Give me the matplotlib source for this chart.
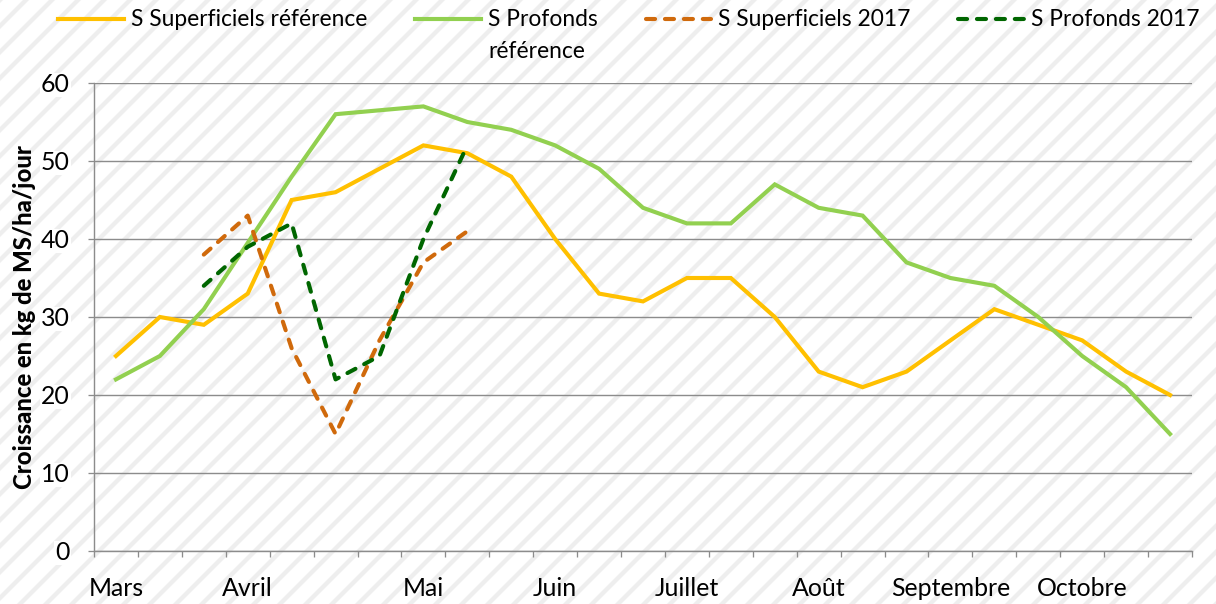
import numpy as np
import matplotlib
matplotlib.use("Agg")
import matplotlib.pyplot as plt

# semaines de mars a octobre (25 points)
months = ["Mars", "Avril", "Mai", "Juin", "Juillet", "Août", "Septembre", "Octobre"]
month_idx = [0, 3, 7, 10, 13, 16, 19, 22]

sup_ref = [25, 30, 29, 33, 45, 46, 49, 52, 51, 48, 40, 33, 32, 35, 35, 30,
           23, 21, 23, 27, 31, 29, 27, 23, 20]
prof_ref = [22, 25, 31, 39.5, 48, 56, 56.5, 57, 55, 54, 52, 49, 44, 42, 42, 47,
            44, 43, 37, 35, 34, 30, 25, 21, 15]
idx_2017 = [2, 3, 4, 5, 6, 7, 8]
sup_2017 = [38, 43, 26, 15, 27, 37, 41]
prof_2017 = [34, 39, 42, 22, 25, 40, 52]

DPI = 78
plt.rcParams["font.family"] = ["Lato", "DejaVu Sans"]
plt.rcParams["hatch.linewidth"] = 4.0
plt.rcParams["hatch.color"] = "#eeeeee"

fig = plt.figure(figsize=(1216 / DPI, 604 / DPI), dpi=DPI)
fig.patch.set_facecolor("white")
fig.patch.set_hatch("/")
fig.patch.set_edgecolor("#eeeeee")
fig.patch.set_linewidth(0)

ax = fig.add_axes([94 / 1216, 53 / 604, 1098 / 1216, 468 / 604])
ax.set_facecolor("none")

x = np.arange(len(sup_ref))
ax.plot(x, sup_ref, color="#FFC000", lw=3.8, solid_joinstyle="miter",
        label="S Superficiels référence", zorder=3)
ax.plot(x, prof_ref, color="#92D050", lw=3.8, solid_joinstyle="miter",
        label="S Profonds", zorder=3)
ax.plot(idx_2017, sup_2017, color="#D06A0C", lw=3.8, dashes=(2.2, 2.4),
        dash_capstyle="round", label="S Superficiels 2017", zorder=4)
ax.plot(idx_2017, prof_2017, color="#006600", lw=3.8, dashes=(2.2, 2.4),
        dash_capstyle="round", label="S Profonds 2017", zorder=4)

ax.set_xlim(-0.5, len(sup_ref) - 0.5)
ax.set_ylim(0, 60)
ax.set_yticks(range(0, 61, 10))
ax.yaxis.grid(True, color="#8c8c8c", lw=1.3)
ax.set_axisbelow(True)

ax.set_xticks(np.arange(-0.5, len(sup_ref), 1))
ax.set_xticklabels([])
ax.set_xticks(month_idx, minor=True)
ax.set_xticklabels(months, minor=True)
ax.tick_params(axis="x", which="major", length=5.5, color="#8c8c8c", width=1.2)
ax.tick_params(axis="x", which="minor", length=0, pad=24, labelsize=23)
ax.tick_params(axis="y", length=5.5, color="#8c8c8c", width=1.2, pad=17,
               labelsize=23)
for lbl in ax.get_yticklabels():
    lbl.set_bbox(dict(facecolor="white", edgecolor="none", pad=1))

for side in ["top", "right"]:
    ax.spines[side].set_visible(False)
for side in ["left", "bottom"]:
    ax.spines[side].set_color("#8c8c8c")
    ax.spines[side].set_linewidth(1.3)

ax.set_ylabel("Croissance en kg de MS/ha/jour", fontsize=22, fontweight="black")
ax.yaxis.set_label_coords(-58 / 1098, 0.5)

leg = fig.legend(loc="center", bbox_to_anchor=(629 / 1216, 1 - 20 / 604),
                 ncol=4, frameon=False, fontsize=21, handlelength=2.9,
                 handletextpad=0.3, columnspacing=2.1)

fig.canvas.draw()
t = leg.get_texts()[1]
bb = t.get_window_extent().transformed(fig.transFigure.inverted())
fig.text(bb.x0, bb.y0 - 31 / 604, "référence", fontsize=21, va="bottom", ha="left")

fig.savefig("out.png", dpi=DPI)
